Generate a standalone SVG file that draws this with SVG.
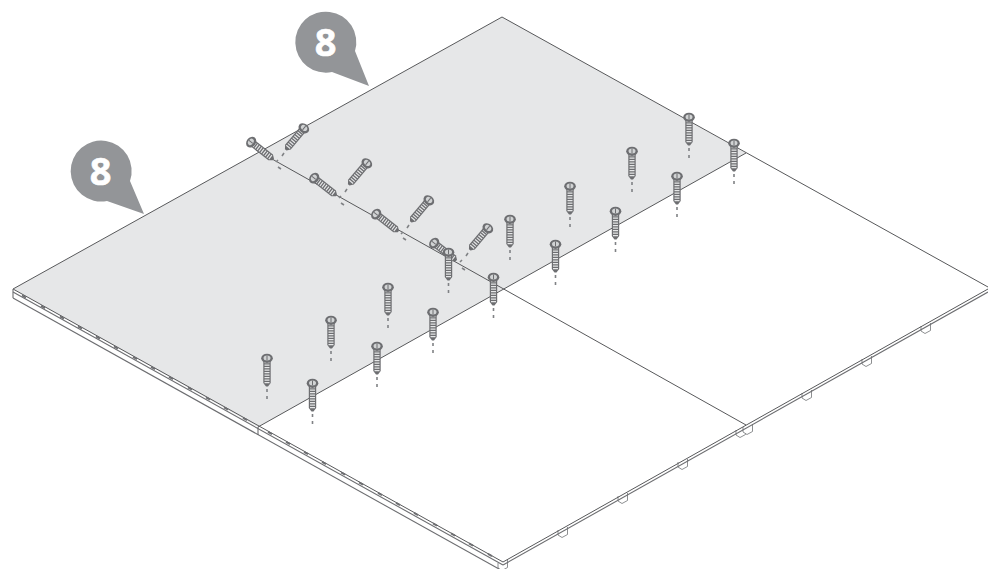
<svg xmlns="http://www.w3.org/2000/svg" width="988" height="569" viewBox="0 0 988 569">
<style>
.e{fill:none;stroke:#58595b;stroke-width:1}
.t{fill:none;stroke:#6d6e71;stroke-width:1.100}
.f{fill:#fff;stroke:#808285;stroke-width:.9}
.b{fill:#939598}
.n{fill:#fff;stroke:#fff;stroke-width:.6;font-family:"Open Sans","Liberation Sans",sans-serif;font-weight:700;font-size:38px;text-anchor:middle}
.d{fill:none;stroke:#808285;stroke-width:1.6}
</style>
<defs>
<g id="screw">
<path d="M-3.700 6V29L-1 32.500H1L3.700 29V6Z" fill="#6d6e71"/>
<path d="M0 8V30" fill="none" stroke="#e6e7e8" stroke-width="5" stroke-dasharray="1.200 1.300"/>
<ellipse cx="0" cy="4.300" rx="5.800" ry="4.600" fill="#6d6e71"/>
<ellipse cx="0" cy="3.900" rx="3.500" ry="2.500" fill="#d1d3d4"/>
<path d="M0 1.500V6.300" stroke="#6d6e71" stroke-width="1"/>
</g>
<g id="vscrew">
<use href="#screw"/>
<path class="d" d="M0 35V38M0 42V45"/>
</g>
<path id="foot" class="f" d="M-5 -1V4L-1 6.500L4.500 3.500V-4"/>
<path id="mark" d="M-2 -1.100L2 1.100" stroke="#6d6e71" stroke-width="1.800" fill="none"/>
</defs>
<g id="feet">
<use href="#foot" x="503" y="564"/>
<use href="#foot" x="563" y="531"/>
<use href="#foot" x="623" y="497"/>
<use href="#foot" x="683" y="463"/>
<use href="#foot" x="741" y="431"/>
<use href="#foot" x="748" y="428"/>
<use href="#foot" x="807" y="394"/>
<use href="#foot" x="867" y="360"/>
<use href="#foot" x="926" y="327"/>
</g>
<g id="panels">
<path d="M502 17L746 153L258 427L13 289Z" fill="#e6e7e8"/>
<path class="e" d="M13 289L502 17L988 287"/>
<path class="e" d="M746 153L258 427"/>
<path class="e" d="M256 150L746 425"/>
<path class="e" d="M13 289L503 562"/>
<path class="t" d="M13 292L503 565"/>
<path class="t" d="M13 298L499 569"/>
<path class="t" d="M13 289V298M258 427V435"/>
<path class="e" d="M503 562L988 289"/>
<path class="t" d="M503 565L988 292"/>
</g>
<g id="strip-marks">
<use href="#mark" x="24" y="296.500"/><use href="#mark" x="43" y="307"/><use href="#mark" x="62" y="317.500"/><use href="#mark" x="80" y="327.500"/><use href="#mark" x="98" y="337.500"/><use href="#mark" x="116" y="347.500"/><use href="#mark" x="135" y="358"/><use href="#mark" x="153" y="368"/><use href="#mark" x="171" y="378"/><use href="#mark" x="190" y="388.500"/><use href="#mark" x="208" y="398.500"/><use href="#mark" x="226" y="408.500"/><use href="#mark" x="245" y="419"/><use href="#mark" x="270" y="433"/><use href="#mark" x="288" y="443"/><use href="#mark" x="306" y="453"/><use href="#mark" x="324" y="463"/><use href="#mark" x="343" y="473.500"/><use href="#mark" x="361" y="483.500"/><use href="#mark" x="380" y="494"/><use href="#mark" x="398" y="504"/><use href="#mark" x="416" y="514"/><use href="#mark" x="435" y="524.500"/><use href="#mark" x="453" y="534.500"/><use href="#mark" x="471" y="544.500"/><use href="#mark" x="490" y="555"/>
</g>
<g id="diagonal-screws">
<use href="#screw" transform="translate(247.800 139.500) rotate(-52)"/>
<use href="#screw" transform="translate(310.800 175.500) rotate(-52)"/>
<use href="#screw" transform="translate(372.800 211.500) rotate(-52)"/>
<use href="#screw" transform="translate(430.800 240.500) rotate(-52)"/>
<use href="#screw" transform="translate(306.600 125) rotate(40)"/>
<use href="#screw" transform="translate(369.600 160) rotate(40)"/>
<use href="#screw" transform="translate(431.600 197) rotate(40)"/>
<use href="#screw" transform="translate(490.600 225) rotate(40)"/>
<path class="d" d="M278 167L281 169M341 203L344 205M403 238L406 240M462 268L465 270"/>
<path class="d" d="M284 153L282 156M278 160L276 162M347 189L345 192M341 196L339 198M409 225L407 228M403 232L401 234M468 253L466 256M462 260L460 262"/>
</g>
<g id="vertical-screws">
<use href="#vscrew" x="689" y="113"/>
<use href="#vscrew" x="734" y="139"/>
<use href="#vscrew" x="632" y="147"/>
<use href="#vscrew" x="677" y="172"/>
<use href="#vscrew" x="570" y="182"/>
<use href="#vscrew" x="615.500" y="207"/>
<use href="#vscrew" x="510" y="215"/>
<use href="#vscrew" x="555.500" y="240"/>
<use href="#vscrew" x="448.500" y="248"/>
<use href="#vscrew" x="493.500" y="273"/>
<use href="#vscrew" x="388" y="283"/>
<use href="#vscrew" x="433" y="308"/>
<use href="#vscrew" x="331" y="316"/>
<use href="#vscrew" x="377" y="342"/>
<use href="#vscrew" x="267" y="354"/>
<use href="#vscrew" x="312.500" y="379"/>
</g>
<g id="callout-1">
<path class="b" d="M369 86L332 72A30.500 30.500 0 1 1 355 51Z"/>
<text class="n" x="325.500" y="56">8</text>
</g>
<g id="callout-2">
<path class="b" d="M144 214L107 201A30.500 30.500 0 1 1 130 181Z"/>
<text class="n" x="100.500" y="185">8</text>
</g>
</svg>
